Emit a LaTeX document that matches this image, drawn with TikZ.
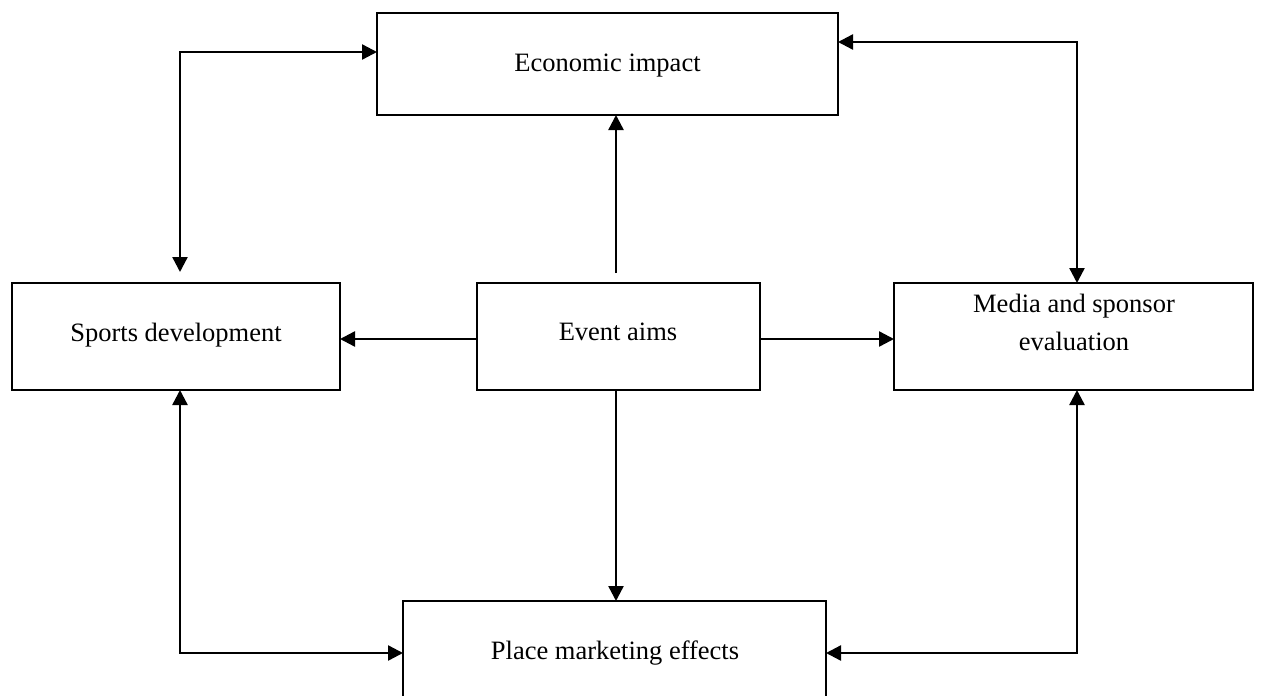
\documentclass[tikz,border=0pt]{standalone}
\usepackage{fontspec}
\setmainfont{Liberation Serif}
\usetikzlibrary{arrows.meta}
\begin{document}
\begin{tikzpicture}[x=1pt,y=-1pt,
  box/.style={draw,line width=2.2pt,inner sep=0pt,outer sep=0pt,rectangle},
  label/.style={inner sep=0pt,anchor=base,align=center,
    font=\fontsize{26.5}{38}\selectfont},
  tip/.style={Triangle[length=15pt,width=15pt]},
  link/.style={line width=2.4pt,-{Triangle[length=15pt,width=15pt]}},
  twoway/.style={line width=2.4pt,{Triangle[length=15pt,width=15pt]}-{Triangle[length=15pt,width=15pt]}}]
  \useasboundingbox (0,0) rectangle (1261,696);
  \clip (0,0) rectangle (1261,696);

  % boxes
  \node[box,minimum width=461pt,minimum height=102pt] (eco) at (607.5,64) {};
  \node[box,minimum width=328pt,minimum height=107pt] (sport) at (176,336.5) {};
  \node[box,minimum width=283pt,minimum height=107pt] (event) at (618.5,336.5) {};
  \node[box,minimum width=359pt,minimum height=107pt] (media) at (1073.5,336.5) {};
  \node[box,minimum width=423pt,minimum height=130pt] (place) at (614.5,666) {};

  % box texts (base anchor sits on the last line)
  \node[label] (ecot) at (607.5,71) {Economic impact};
  \node[label] (sportt) at (176,341) {Sports development};
  \node[label] (eventt) at (618,340) {Event aims};
  \node[label] (mediat) at (1074,350) {Media and sponsor\\evaluation};
  \node[label] (placet) at (615,659) {Place marketing effects};

  % routing points
  \coordinate (ex) at (616,273);
  \coordinate (mid) at (0,339);
  \coordinate (lx) at (180,0);
  \coordinate (rx) at (1077,0);
  \coordinate (topl) at (0,52);
  \coordinate (topr) at (0,42);
  \coordinate (bot) at (0,653);
  \coordinate (ls) at (180,272);

  % from the event aims outwards
  \draw[link] (ex) -- (ex |- eco.south);
  \draw[link] (event.west |- mid) -- (sport.east |- mid);
  \draw[link] (event.east |- mid) -- (media.west |- mid);
  \draw[link] (event.south -| ex) -- (place.north -| ex);

  % outer two-way links
  \draw[twoway] (ls) |- (eco.west |- topl);
  \draw[twoway] (eco.east |- topr) -| (media.north -| rx);
  \draw[twoway] (sport.south -| lx) |- (place.west |- bot);
  \draw[twoway] (media.south -| rx) |- (place.east |- bot);
\end{tikzpicture}
\end{document}
